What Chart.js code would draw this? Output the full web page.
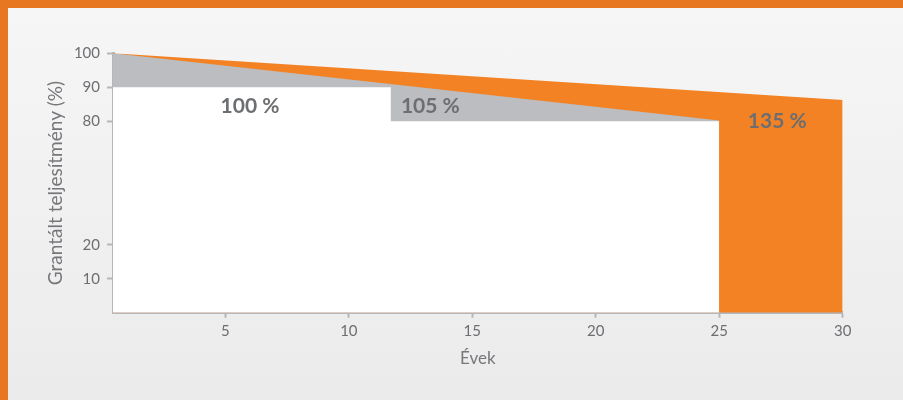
<!DOCTYPE html>
<html>
<head>
<meta charset="utf-8">
<script src="https://cdn.jsdelivr.net/npm/chart.js@4"></script>
<style>
  html, body { margin: 0; padding: 0; }
  body { width: 903px; height: 400px; overflow: hidden; position: relative;
         background: linear-gradient(to bottom, #f6f6f6, #ebebec); }
  #frameTop { position: absolute; left: 0; top: 0; width: 903px; height: 8px; background: #e87722; }
  #frameLeft { position: absolute; left: 0; top: 0; width: 8px; height: 400px; background: #e87722; }
  #wrap { position: absolute; left: 8px; top: 8px; width: 895px; height: 392px; }
</style>
</head>
<body>
<div id="frameTop"></div>
<div id="frameLeft"></div>
<div id="wrap"><canvas id="warrantyChart"></canvas></div>
<script>
// linear (orange) warranty line
const linearYears = [0.45, 30];
const linearValues = [100, 86.3];
// sloped boundary of the grey area
const greyYears = [0.45, 25];
const greyValues = [100, 80.2];
// standard step warranty (white area)
const stepYears = [0.45, 11.7, 11.7, 25, 25];
const stepValues = [90, 90, 80, 80, 0];

const xTickValues = [5, 10, 15, 20, 25, 30];
const yTickValues = [10, 20, 80, 90, 100];
const yTickLabels = ['10', '20', '80', '90', '100'];

const areaLabels = ['100 %', '105 %', '135 %'];
const areaLabelYears = [6.0, 13.3, 27.35];
const areaLabelValues = [84.5, 84.5, 80.1];

// the y axis is broken between 20 and 80
const GAP_TOP = 56.3;
function axisPos(v) {
    return v <= 20 ? v : v - 80 + GAP_TOP;
}

function toPoints(xs, ys) {
    return xs.map((x, i) => ({ x: x, y: axisPos(ys[i]) }));
}

const ORANGE = '#f28224';
const GREY = '#bcbdc0';
const AXIS = '#b6b6b8';
const TEXT = '#6d6e71';

const areaLabelPlugin = {
    id: 'areaLabels',
    afterDatasetsDraw(chart) {
        const ctx = chart.ctx;
        const xs = chart.scales.x, ys = chart.scales.y;
        ctx.save();
        ctx.font = 'bold 21px Lato';
        ctx.fillStyle = TEXT;
        ctx.textAlign = 'center';
        ctx.textBaseline = 'middle';
        areaLabels.forEach((t, i) => {
            ctx.fillText(t, xs.getPixelForValue(areaLabelYears[i]), ys.getPixelForValue(axisPos(areaLabelValues[i])));
        });
        ctx.restore();
    }
};

const ctx = document.getElementById('warrantyChart').getContext('2d');
new Chart(ctx, {
    type: 'line',
    data: {
        datasets: [
            {
                label: 'linear',
                data: toPoints(linearYears, linearValues),
                backgroundColor: ORANGE,
                borderWidth: 0,
                pointRadius: 0,
                fill: 'origin',
                order: 3
            },
            {
                label: 'grey',
                data: toPoints(greyYears, greyValues),
                backgroundColor: GREY,
                borderWidth: 0,
                pointRadius: 0,
                fill: 'origin',
                order: 2
            },
            {
                label: 'step',
                data: toPoints(stepYears, stepValues),
                backgroundColor: '#ffffff',
                borderWidth: 0,
                pointRadius: 0,
                fill: 'origin',
                order: 1
            }
        ]
    },
    options: {
        responsive: true,
        maintainAspectRatio: false,
        animation: false,
        layout: { padding: { left: 0, right: 60.3, top: 45.3, bottom: 0 } },
        plugins: { legend: { display: false }, tooltip: { enabled: false } },
        scales: {
            x: {
                type: 'linear',
                min: 0.45,
                max: 30,
                z: 1,
                afterBuildTicks: s => { s.ticks = xTickValues.map(v => ({ value: v })); },
                afterFit: s => { s.height = 87.3; },
                border: { display: true, color: AXIS, width: 3 },
                grid: { drawOnChartArea: false, drawTicks: true, tickLength: 5, tickColor: AXIS, tickWidth: 2 },
                ticks: { color: TEXT, font: { family: 'Lato', size: 15 }, padding: 4, maxRotation: 0 },
                title: { display: true, text: 'Évek', color: '#76777a',
                         font: { family: 'Lato', size: 17 }, padding: { top: 0, bottom: 31 } }
            },
            y: {
                type: 'linear',
                min: 0,
                max: axisPos(100),
                z: 1,
                afterBuildTicks: s => { s.ticks = yTickValues.map(v => ({ value: axisPos(v) })); },
                afterFit: s => { s.width = 105; },
                border: { display: true, color: AXIS, width: 3 },
                grid: { drawOnChartArea: false, drawTicks: true, tickLength: 6, tickColor: AXIS, tickWidth: 2 },
                ticks: {
                    color: TEXT, font: { family: 'Lato', size: 15 }, padding: 7,
                    callback: (val, i) => yTickLabels[i]
                },
                title: { display: true, text: 'Grantált teljesítmény (%)', color: '#76777a',
                         font: { family: 'Lato', size: 19 }, padding: { top: 36, bottom: 0 } }
            }
        }
    },
    plugins: [areaLabelPlugin]
});
</script>
</body>
</html>
